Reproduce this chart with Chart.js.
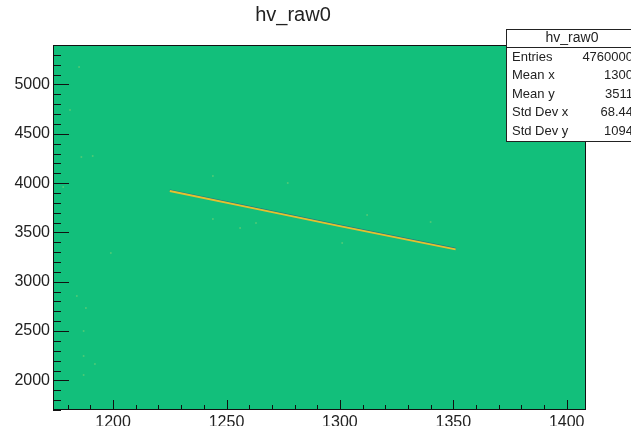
<!DOCTYPE html>
<html lang="en">
<head>
    <meta charset="UTF-8">
    <title>hv_raw0</title>
    <script src="https://cdn.jsdelivr.net/npm/chart.js"></script>
    <style>
        body { margin: 0; background: white; }
        #wrap { width: 631px; height: 426px; }
    </style>
</head>
<body>
<div id="wrap"><canvas id="histo"></canvas></div>
<script>
    // axis ranges and tick labels
    const xRange = [1173.5, 1408.5];
    const yRange = [1700, 5400];
    const xTicks = [1200, 1250, 1300, 1350, 1400];
    const yTicks = [2000, 2500, 3000, 3500, 4000, 4500, 5000];

    // the bright band
    const bandX = [1225, 1260, 1300, 1351];
    const bandY = [3920, 3755, 3565, 3328];

    // a few of the faint lit bins scattered over the histogram
    const speckX = [1185, 1181, 1186, 1191, 1178, 1199, 1184, 1188, 1187, 1187, 1187, 1192, 1244, 1277, 1244, 1256, 1263, 1312, 1301, 1340];
    const speckY = [5177, 4741, 4265, 4275, 3961, 3292, 2856, 2734, 2501, 2247, 2055, 2166, 4072, 4001, 3636, 3545, 3596, 3677, 3393, 3606];

    // stats box
    const statNames = ['Entries', 'Mean x', 'Mean y', 'Std Dev x', 'Std Dev y'];
    const statValues = ['4760000', '1300', '3511', '68.44', '1094'];

    const FONT = "'Liberation Sans', Arial, sans-serif";
    const green = '#12bf7b';

    const toPts = (xs, ys) => xs.map((x, i) => ({x: x, y: ys[i]}));

    const rootFrame = {
        id: 'rootFrame',
        beforeDatasetsDraw(chart) {
            const {ctx, chartArea: a} = chart;
            ctx.save();
            ctx.fillStyle = green;
            ctx.fillRect(a.left, a.top, a.right - a.left, a.bottom - a.top);
            ctx.restore();
        },
        beforeDatasetDraw(chart, args) {
            // dark edge sits on the upper side of the band
            if (args.index === 1) {
                chart.ctx.save();
                chart.ctx.translate(0, -1);
            }
        },
        afterDatasetDraw(chart, args) {
            if (args.index === 1) chart.ctx.restore();
        },
        afterDraw(chart) {
            const {ctx, chartArea: a, scales} = chart;
            ctx.save();
            ctx.strokeStyle = '#111';
            ctx.lineWidth = 1;
            ctx.strokeRect(a.left + 0.5, a.top + 0.5, a.right - a.left - 1, a.bottom - a.top - 1);

            // inward ticks like ROOT
            ctx.beginPath();
            for (let v = Math.ceil(xRange[0] / 10) * 10; v <= xRange[1]; v += 10) {
                const px = Math.round(scales.x.getPixelForValue(v)) + 0.5;
                const len = v % 50 === 0 ? 10 : 5;
                ctx.moveTo(px, a.bottom);
                ctx.lineTo(px, a.bottom - len);
            }
            for (let v = Math.ceil(yRange[0] / 100) * 100; v <= yRange[1]; v += 100) {
                const py = Math.round(scales.y.getPixelForValue(v)) + 0.5;
                const len = v % 500 === 0 ? 16 : 8;
                ctx.moveTo(a.left, py);
                ctx.lineTo(a.left + len, py);
            }
            ctx.stroke();

            // stats box
            const bx = 506, by = 29, bw = 140, rowH = 18.6;
            ctx.fillStyle = 'white';
            ctx.fillRect(bx, by, bw, 112);
            ctx.strokeStyle = '#222';
            ctx.strokeRect(bx + 0.5, by + 0.5, bw, 112);
            ctx.beginPath();
            ctx.moveTo(bx, by + 18.5);
            ctx.lineTo(bx + bw, by + 18.5);
            ctx.stroke();
            ctx.fillStyle = '#222';
            ctx.textBaseline = 'middle';
            ctx.font = '14px ' + FONT;
            ctx.textAlign = 'center';
            ctx.fillText('hv_raw0', 572, by + 9.5);
            ctx.font = '13px ' + FONT;
            statNames.forEach((n, i) => {
                const y = by + 28 + i * rowH;
                ctx.textAlign = 'left';
                ctx.fillText(n, 512, y);
                ctx.textAlign = 'right';
                ctx.fillText(statValues[i], 633, y);
            });
            ctx.restore();
        }
    };

    new Chart(document.getElementById('histo'), {
        type: 'scatter',
        data: {
            datasets: [
                {
                    data: toPts(bandX, bandY),
                    showLine: true,
                    borderColor: '#e6c02e',
                    borderWidth: 1.8,
                    pointRadius: 0,
                    order: 1
                },
                {
                    data: toPts(bandX, bandY),
                    showLine: true,
                    borderColor: 'rgba(45, 75, 140, 0.6)',
                    borderWidth: 1.2,
                    pointRadius: 0,
                    order: 2
                },
                {
                    data: toPts(speckX, speckY),
                    backgroundColor: 'rgba(150, 215, 110, 0.45)',
                    borderWidth: 0,
                    pointRadius: 1,
                    order: 3
                }
            ]
        },
        options: {
            responsive: true,
            maintainAspectRatio: false,
            animation: false,
            layout: { padding: { top: 0, right: 45, left: 0, bottom: 0 } },
            plugins: {
                legend: { display: false },
                tooltip: { enabled: false },
                title: {
                    display: true,
                    text: 'hv_raw0',
                    color: '#222',
                    font: { family: FONT, size: 20, weight: 'normal', lineHeight: 1.2 },
                    padding: { top: 3, bottom: 18 }
                }
            },
            scales: {
                x: {
                    type: 'linear',
                    min: xRange[0],
                    max: xRange[1],
                    afterBuildTicks: s => { s.ticks = xTicks.map(v => ({value: v})); },
                    afterFit: s => { s.height = 16; },
                    grid: { display: false, drawTicks: false },
                    border: { display: false },
                    ticks: { color: '#222', padding: 3, maxRotation: 0, font: { family: FONT, size: 16 },
                             callback: v => String(v) }
                },
                y: {
                    type: 'linear',
                    min: yRange[0],
                    max: yRange[1],
                    afterBuildTicks: s => { s.ticks = yTicks.map(v => ({value: v})); },
                    afterFit: s => { s.width = 53; },
                    grid: { display: false, drawTicks: false },
                    border: { display: false },
                    ticks: { color: '#222', padding: 3, font: { family: FONT, size: 16 },
                             callback: v => String(v) }
                }
            }
        },
        plugins: [rootFrame]
    });
</script>
</body>
</html>
